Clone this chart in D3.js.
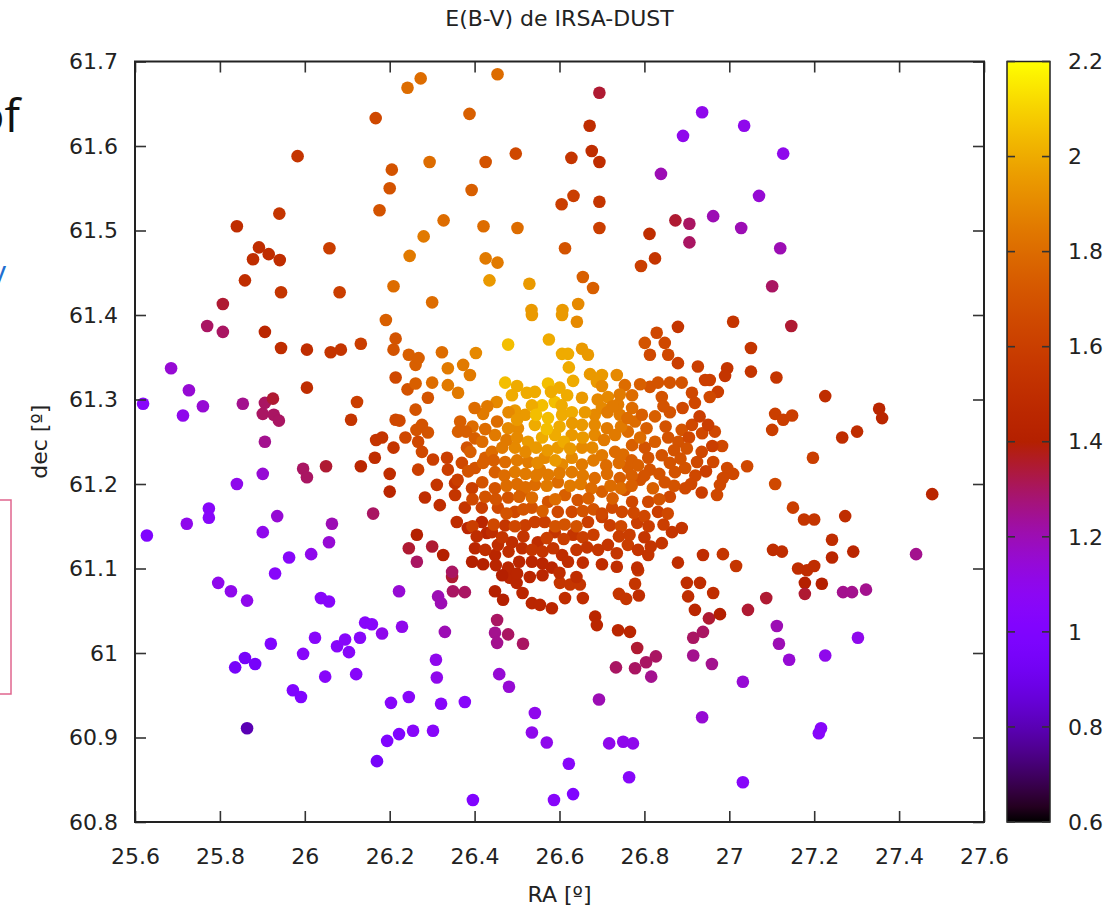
<!DOCTYPE html>
<html lang="es">
<head>
<meta charset="UTF-8">
<title>E(B-V) de IRSA-DUST</title>
<script src="https://d3js.org/d3.v7.min.js"></script>
<style>
  body { margin: 0; background: #fff; }
  svg { display: block; }
  .axis text { font-family: "DejaVu Sans", sans-serif; font-size: 22px; fill: #222; }
  .axis line { stroke: #333; stroke-width: 1.6; }
  .label { font-family: "DejaVu Sans", sans-serif; font-size: 22px; fill: #222; }
</style>
</head>
<body>
<svg id="chart" width="1119" height="908"></svg>
<script>
// RA [deg], dec [deg] and E(B-V), grouped by region
const raDeg = [
  // top left
  26.273,26.242,26.167,25.983,26.205,26.200,26.176,26.294,26.280,26.247,26.209,26.300,25.940,25.840,25.892,25.878,25.915,25.941,25.859,25.944,26.058,26.082,25.807,26.191,
  // top centre / right
  26.454,26.694,26.671,26.676,26.694,26.628,26.633,26.605,26.694,26.694,26.613,26.655,26.679,26.644,26.607,26.534,26.529,26.435,26.426,26.454,26.501,26.421,26.393,26.426,26.497,26.388,26.327,26.812,26.825,26.792,26.873,26.906,26.906,26.962,26.839,26.891,26.936,27.035,27.127,27.070,27.028,27.120,27.101,27.009,27.146,
  // middle left
  25.770,25.807,25.906,25.944,26.005,26.061,26.085,26.132,26.214,26.209,26.245,26.261,26.214,26.242,26.261,26.261,25.685,25.727,25.619,25.713,25.760,25.854,25.906,25.925,25.901,25.927,25.939,26.005,26.123,26.109,26.214,26.223,26.237,26.263,26.168,26.182,26.209,26.165,26.132,26.200,26.200,25.906,25.996,26.005,26.050,25.901,25.840,25.774,25.774,25.722,25.628,25.935,25.901,26.064,26.057,25.963,26.015,26.161,26.264,26.245,26.264,25.930,
  // middle right
  27.051,26.995,26.990,27.051,27.111,26.954,26.973,27.226,27.353,27.360,27.108,27.127,27.148,27.101,27.301,27.266,26.966,26.983,27.197,26.962,26.995,27.009,26.985,26.978,26.971,27.042,27.108,27.478,27.150,27.176,27.200,27.273,27.242,27.242,27.292,27.440,27.103,27.124,26.985,27.016,27.162,27.183,27.200,
  // bottom left
  25.796,25.826,25.864,26.038,26.057,26.222,26.314,26.321,26.347,26.349,26.377,26.448,26.467,26.483,26.499,26.513,26.535,26.554,26.582,26.453,26.448,26.453,26.479,26.514,26.142,26.158,26.229,26.182,26.330,26.130,26.095,26.076,26.104,26.024,25.996,25.920,25.859,25.836,25.883,26.048,26.121,25.972,25.991,25.864,26.309,26.311,26.458,26.481,26.203,26.245,26.321,26.377,26.542,26.535,26.570,26.194,26.222,26.255,26.302,26.170,26.396,26.587,
  // bottom right
  26.601,26.625,26.648,26.613,26.655,26.785,26.778,26.787,26.740,26.757,26.684,26.688,26.738,26.766,26.783,26.733,26.778,26.804,26.827,26.816,26.900,26.931,26.903,26.962,26.919,26.952,26.978,26.915,26.938,26.915,26.959,27.087,27.044,27.178,27.178,27.218,27.268,27.289,27.322,27.112,27.117,27.141,27.032,27.226,27.303,26.693,26.936,26.717,26.750,26.773,27.216,27.211,26.622,26.764,26.632,27.032,
  // central cluster
  26.535,26.606,26.641,26.479,26.575,26.606,26.620,26.653,26.667,26.622,
  26.632,26.573,26.672,26.700,26.688,26.735,26.472,26.488,26.523,26.542,
  26.618,26.653,26.714,26.754,26.771,26.801,26.829,26.848,26.879,26.813,
  26.856,26.879,26.813,26.832,26.860,26.888,26.841,26.926,26.943,26.912,
  26.919,26.954,26.323,26.403,26.337,26.373,26.389,26.337,26.361,26.268,
  26.300,26.290,26.366,26.361,26.453,26.276,26.290,26.267,26.276,26.302,
  26.335,26.337,26.267,26.382,26.401,26.502,26.311,26.354,26.283,26.318,
  26.354,26.358,26.300,26.326,
  26.347,26.384,26.417,26.429,26.401,26.448,26.394,26.479,26.512,26.549,
  26.589,26.606,26.632,26.655,26.691,26.714,26.667,26.700,26.724,26.747,
  26.771,26.783,26.761,26.809,26.841,26.865,26.888,26.832,26.809,26.860,
  26.896,26.848,26.872,26.896,26.924,26.938,26.879,26.783,26.742,26.683,
  26.613,26.700,26.761,26.809,26.841,26.825,26.856,26.888,26.912,26.936,
  26.950,
  26.825,26.778,26.742,26.712,26.683,26.683,26.653,26.629,26.596,26.565,
  26.526,26.495,26.472,26.448,26.425,26.418,26.448,26.479,26.512,26.542,
  26.573,26.596,26.629,26.653,26.629,26.589,26.559,26.526,26.495,26.542,
  26.519,26.573,26.606,26.629,26.589,26.559,26.535,26.495,26.479,26.448,
  26.418,26.441,26.465,26.660,26.700,26.738,26.771,26.794,26.731,26.700,
  26.677,26.653,26.771,26.801,26.731,26.761,26.401,26.394,26.377,26.417,
  26.455,26.495,26.535,26.573,26.596,26.629,26.565,26.519,26.472,26.441,
  26.488,26.455,26.535,26.582,26.542,
  26.554,26.606,26.790,26.813,26.719,26.754,26.643,
  // central cluster, densest part
  26.452,26.580,26.690,26.742,
  26.420,26.480,26.545,26.713,26.860,
  26.395,26.425,26.570,26.600,26.630,26.683,26.745,26.805,26.850,
  26.475,26.500,26.610,26.655,26.705,26.790,26.880,26.905,
  26.390,26.520,26.545,26.572,26.625,26.750,26.870,26.900,
  26.420,26.445,26.500,26.548,26.590,26.680,26.710,26.740,26.770,26.785,26.860,26.885,
  26.470,26.520,26.545,26.600,26.655,26.712,26.770,26.800,26.835,26.920,
  26.475,26.500,26.520,26.570,26.625,26.650,26.675,26.720,26.745,26.770,26.820,26.870,
  26.395,26.425,26.450,26.505,26.535,26.590,26.668,26.725,26.835,
  26.475,26.515,26.560,26.655,26.680,26.700,26.775,26.800,26.855,
  26.395,26.445,26.495,26.590,26.612,26.640,26.745,26.810,26.845,
  26.405,26.465,26.515,26.570,26.610,26.655,26.680,26.740,26.765,26.800,
  26.425,26.480,26.535,26.560,26.585,26.640,26.665,26.735,26.785,26.815,
  26.420,26.450,26.505,26.560,26.620,26.700,26.735,
  26.465,26.500,26.530,26.560,26.600,26.640,
  // central cluster, edges
  26.500,26.600,26.700,26.790,
  26.400,26.430,26.605,26.725,26.845,26.890,
  26.500,26.760,26.930,
  26.960,26.935,26.945,26.910,26.935,
  26.380,26.370,26.360,26.385
];

const decDeg = [
  61.680,61.669,61.633,61.588,61.572,61.550,61.524,61.581,61.493,61.470,61.434,61.415,61.520,61.505,61.480,61.466,61.472,61.465,61.441,61.427,61.479,61.427,61.413,61.394,
  61.685,61.663,61.624,61.594,61.581,61.586,61.541,61.531,61.534,61.503,61.479,61.445,61.432,61.413,61.406,61.406,61.437,61.441,61.467,61.462,61.503,61.505,61.548,61.581,61.591,61.638,61.512,61.496,61.467,61.458,61.512,61.508,61.486,61.517,61.567,61.612,61.640,61.624,61.591,61.541,61.503,61.479,61.434,61.392,61.387,
  61.387,61.380,61.380,61.361,61.359,61.356,61.359,61.366,61.372,61.359,61.353,61.341,61.326,61.312,61.319,61.288,61.337,61.311,61.295,61.281,61.292,61.295,61.296,61.301,61.283,61.282,61.275,61.314,61.297,61.276,61.276,61.275,61.255,61.264,61.252,61.255,61.243,61.231,61.221,61.212,61.191,61.250,61.218,61.208,61.221,61.212,61.200,61.171,61.160,61.153,61.139,61.162,61.143,61.153,61.131,61.113,61.117,61.165,61.140,61.124,61.108,61.094,
  61.361,61.337,61.328,61.333,61.326,61.323,61.309,61.304,61.289,61.278,61.283,61.276,61.281,61.264,61.262,61.255,61.262,61.245,61.231,61.226,61.219,61.212,61.207,61.199,61.187,61.221,61.200,61.188,61.172,61.158,61.158,61.162,61.134,61.113,61.120,61.117,61.122,61.120,61.117,61.103,61.100,61.098,61.103,
  61.083,61.073,61.062,61.065,61.061,61.073,61.067,61.059,61.090,61.073,61.072,61.073,61.063,61.089,61.083,61.071,61.059,61.057,61.053,61.039,61.024,61.012,61.022,61.011,61.036,61.034,61.031,61.023,61.025,61.018,61.016,61.008,61.001,61.018,60.999,61.011,60.994,60.983,60.987,60.972,60.975,60.956,60.948,60.911,60.992,60.971,60.975,60.960,60.941,60.948,60.940,60.942,60.929,60.906,60.894,60.896,60.904,60.908,60.908,60.872,60.826,60.826,
  61.083,61.081,61.081,61.065,61.065,61.098,61.082,61.068,61.070,61.064,61.043,61.033,61.027,61.025,61.006,60.983,60.982,60.989,60.996,60.972,61.083,61.083,61.067,61.071,61.051,61.041,61.046,61.018,61.025,60.997,60.987,61.065,61.051,61.083,61.070,61.082,61.072,61.072,61.075,61.032,61.011,60.992,60.966,60.997,61.018,60.945,60.924,60.893,60.895,60.893,60.911,60.905,60.869,60.853,60.833,60.847,
  61.400,61.400,61.392,61.365,61.371,61.354,61.354,61.360,61.353,61.338,
  61.322,61.319,61.330,61.329,61.321,61.329,61.320,61.305,61.308,61.309,
  61.305,61.302,61.303,61.317,61.305,61.367,61.379,61.367,61.386,61.353,
  61.353,61.343,61.315,61.320,61.320,61.320,61.303,61.339,61.323,61.308,
  61.296,61.303,61.356,61.355,61.337,61.341,61.329,61.317,61.308,61.349,
  61.320,61.302,61.274,61.262,61.274,61.270,61.261,61.250,61.238,61.229,
  61.231,61.217,61.217,61.243,61.254,61.266,61.199,61.201,61.184,61.175,
  61.187,61.155,61.126,61.116,
  61.096,61.148,61.155,61.142,61.124,61.116,61.108,61.101,61.124,61.131,
  61.143,61.116,61.140,61.107,61.122,61.128,61.155,61.161,61.172,61.167,
  61.179,61.154,61.128,61.116,61.130,61.143,61.148,61.167,61.179,61.185,
  61.195,61.202,61.214,61.219,61.226,61.116,61.107,61.101,61.207,61.207,
  61.187,61.191,61.220,61.231,61.234,61.250,61.255,61.264,61.270,61.260,
  61.270,
  61.280,61.274,61.282,61.266,61.282,61.258,61.270,61.258,61.243,61.231,
  61.226,61.214,61.226,61.214,61.231,61.202,61.195,61.184,61.191,61.199,
  61.211,61.202,61.214,61.223,61.231,61.258,61.255,61.250,61.243,61.270,
  61.282,61.278,61.282,61.285,61.297,61.293,61.293,61.287,61.266,61.258,
  61.250,61.238,61.243,61.285,61.290,61.294,61.290,61.282,61.238,61.234,
  61.243,61.243,61.246,61.243,61.258,61.262,61.219,61.195,61.172,61.172,
  61.172,61.167,61.172,61.179,61.167,61.167,61.155,61.151,61.151,61.143,
  61.131,61.128,61.108,61.101,61.155,
  61.217,61.223,61.205,61.217,61.151,61.193,61.181,
  61.297,61.309,61.300,61.306,
  61.283,61.285,61.282,61.285,61.285,
  61.268,61.265,61.265,61.268,61.272,61.270,61.268,61.266,61.268,
  61.252,61.255,61.250,61.255,61.252,61.255,61.250,61.255,
  61.238,61.238,61.243,61.240,61.242,61.235,61.240,61.242,
  61.225,61.228,61.228,61.225,61.228,61.228,61.222,61.225,61.228,61.222,61.225,61.230,
  61.210,61.212,61.210,61.213,61.210,61.212,61.210,61.210,61.212,61.210,
  61.198,61.200,61.196,61.198,61.198,61.200,61.195,61.198,61.195,61.198,61.195,61.198,
  61.182,61.185,61.182,61.185,61.184,61.182,61.183,61.183,61.182,
  61.165,61.170,61.168,61.168,61.170,61.165,61.166,61.162,61.165,
  61.150,61.152,61.150,61.150,61.152,61.150,61.150,61.150,61.152,
  61.138,61.137,61.138,61.136,61.135,61.137,61.140,61.138,61.140,61.137,
  61.122,61.120,61.122,61.120,61.124,61.122,61.125,61.118,61.122,61.126,
  61.105,61.104,61.108,61.106,61.108,61.105,61.102,
  61.092,61.094,61.090,61.092,61.095,61.090,
  61.316,61.314,61.316,61.318,
  61.290,61.292,61.293,61.292,61.292,61.290,
  61.276,61.278,61.280,
  61.245,61.238,61.215,61.200,61.190,
  61.262,61.225,61.205,61.215
];

const ebv = [
  1.8,1.8,1.65,1.55,1.7,1.7,1.7,1.8,1.85,1.85,1.8,1.8,1.55,1.5,1.5,1.5,1.5,1.5,1.5,1.55,1.6,1.6,1.35,1.75,
  1.8,1.35,1.5,1.5,1.5,1.55,1.6,1.6,1.55,1.6,1.7,1.75,1.75,1.9,1.95,1.95,1.95,1.95,1.85,1.85,1.8,1.8,1.75,1.7,1.65,1.75,1.8,1.5,1.55,1.6,1.35,1.3,1.3,1.2,1.2,1.1,1.1,1.1,1.1,1.15,1.2,1.2,1.3,1.55,1.35,
  1.3,1.3,1.45,1.5,1.5,1.55,1.55,1.6,1.7,1.7,1.75,1.75,1.65,1.7,1.75,1.7,1.15,1.15,1.05,1.1,1.15,1.25,1.3,1.35,1.3,1.3,1.3,1.5,1.6,1.55,1.65,1.65,1.65,1.7,1.55,1.55,1.55,1.5,1.45,1.5,1.45,1.25,1.3,1.3,1.35,1.15,1.1,1.05,1.05,1.1,1.0,1.15,1.1,1.2,1.15,1.05,1.1,1.3,1.4,1.35,1.3,1.05,
  1.55,1.55,1.55,1.55,1.55,1.6,1.6,1.5,1.45,1.45,1.6,1.6,1.6,1.6,1.5,1.5,1.65,1.65,1.6,1.65,1.65,1.65,1.65,1.65,1.65,1.65,1.65,1.45,1.6,1.55,1.55,1.5,1.5,1.45,1.45,1.25,1.5,1.5,1.55,1.55,1.5,1.5,1.5,
  1.1,1.1,1.1,1.05,1.05,1.15,1.2,1.2,1.35,1.3,1.3,1.4,1.4,1.45,1.45,1.45,1.45,1.45,1.45,1.3,1.25,1.25,1.3,1.3,1.05,1.05,1.1,1.1,1.2,1.05,1.05,1.05,1.05,1.05,1.05,1.0,0.95,0.95,0.95,1.05,1.05,1.0,1.0,0.8,1.1,1.1,1.15,1.15,1.05,1.05,1.05,1.05,1.1,1.1,1.1,1.0,1.0,1.05,1.05,0.95,1.0,1.05,
  1.55,1.55,1.55,1.5,1.5,1.55,1.55,1.5,1.55,1.55,1.45,1.45,1.45,1.45,1.35,1.3,1.3,1.3,1.3,1.25,1.5,1.5,1.5,1.5,1.45,1.35,1.4,1.3,1.3,1.25,1.25,1.35,1.35,1.4,1.35,1.4,1.25,1.25,1.25,1.2,1.2,1.15,1.15,1.1,1.1,1.2,1.15,1.1,1.1,1.1,1.05,1.05,1.05,1.05,1.0,1.05,
  1.95,1.95,1.9,2.05,2.0,2.0,2.0,1.95,1.95,2.0,
  2.0,2.05,1.95,1.95,1.95,1.9,2.05,2.0,2.0,2.0,
  2.0,1.95,1.9,1.8,1.8,1.7,1.65,1.65,1.55,1.65,
  1.65,1.6,1.7,1.7,1.7,1.7,1.7,1.6,1.6,1.65,
  1.65,1.65,1.8,1.9,1.85,1.85,1.85,1.85,1.85,1.75,
  1.8,1.7,1.75,1.75,1.8,1.7,1.7,1.65,1.65,1.6,
  1.6,1.6,1.6,1.7,1.75,1.9,1.55,1.55,1.5,1.5,
  1.55,1.5,1.35,1.4,
  1.3,1.45,1.45,1.45,1.45,1.45,1.4,1.45,1.5,1.5,
  1.55,1.5,1.55,1.5,1.55,1.55,1.6,1.6,1.65,1.65,
  1.65,1.6,1.6,1.55,1.55,1.55,1.55,1.6,1.65,1.65,
  1.65,1.7,1.7,1.7,1.65,1.5,1.5,1.5,1.75,1.8,
  1.75,1.75,1.75,1.7,1.7,1.75,1.7,1.7,1.65,1.65,
  1.6,
  1.75,1.8,1.85,1.85,1.9,1.9,1.95,1.95,1.95,1.9,
  1.85,1.85,1.8,1.75,1.75,1.7,1.7,1.7,1.75,1.8,
  1.85,1.8,1.85,1.85,1.9,2.0,2.0,1.95,1.9,2.0,
  1.95,2.05,2.0,2.0,2.05,2.05,2.0,1.95,1.9,1.85,
  1.8,1.8,1.85,1.95,1.9,1.85,1.8,1.75,1.8,1.85,
  1.9,1.9,1.75,1.7,1.85,1.8,1.7,1.6,1.55,1.6,
  1.65,1.65,1.7,1.7,1.65,1.65,1.6,1.6,1.55,1.5,
  1.5,1.5,1.45,1.45,1.6,
  1.85,1.9,1.7,1.7,1.6,1.7,1.7,
  1.9,2.0,1.9,1.85,
  1.85,1.9,2.05,1.85,1.7,
  1.8,1.8,2.05,2.0,1.95,1.9,1.85,1.75,1.7,
  1.85,1.9,2.0,1.95,1.85,1.8,1.7,1.65,
  1.75,1.9,1.95,1.95,1.95,1.8,1.7,1.7,
  1.75,1.75,1.85,1.9,1.95,1.85,1.8,1.8,1.75,1.75,1.7,1.7,
  1.8,1.85,1.85,1.85,1.85,1.8,1.75,1.7,1.7,1.65,
  1.8,1.8,1.8,1.85,1.85,1.85,1.8,1.8,1.8,1.75,1.75,1.7,
  1.65,1.7,1.7,1.75,1.8,1.8,1.75,1.75,1.7,
  1.7,1.7,1.75,1.7,1.7,1.65,1.65,1.65,1.65,
  1.6,1.65,1.65,1.7,1.7,1.7,1.65,1.6,1.6,
  1.5,1.55,1.55,1.6,1.6,1.6,1.6,1.6,1.6,1.55,
  1.5,1.5,1.55,1.55,1.55,1.55,1.55,1.55,1.55,1.55,
  1.4,1.45,1.45,1.45,1.5,1.5,1.5,
  1.4,1.45,1.45,1.45,1.5,1.5,
  2.0,2.0,1.9,1.75,
  1.8,1.85,2.0,1.85,1.7,1.65,
  1.95,1.8,1.6,
  1.6,1.65,1.6,1.65,1.6,
  1.75,1.65,1.6,1.7
];

const xTicks = [25.6, 25.8, 26, 26.2, 26.4, 26.6, 26.8, 27, 27.2, 27.4, 27.6];
const yTicks = [60.8, 60.9, 61, 61.1, 61.2, 61.3, 61.4, 61.5, 61.6, 61.7];
const cbTicks = [0.6, 0.8, 1, 1.2, 1.4, 1.6, 1.8, 2, 2.2];

if (raDeg.length !== decDeg.length || raDeg.length !== ebv.length)
  console.warn("length mismatch", raDeg.length, decDeg.length, ebv.length);

const svg = d3.select("#chart");
const plotL = 135, plotR = 984, plotT = 61.5, plotB = 822;

const x = d3.scaleLinear().domain([25.6, 27.6]).range([plotL, plotR]);
const y = d3.scaleLinear().domain([60.8, 61.7]).range([plotB, plotT]);
const cb = d3.scaleLinear().domain([0.6, 2.2]).range([plotB, plotT]);

// gnuplot default palette (rgbformulae 7,5,15)
function palette(v) {
  const t = Math.max(0, Math.min(1, (v - 0.6) / 1.6));
  const r = Math.sqrt(t), g = t * t * t, b = Math.max(0, Math.sin(2 * Math.PI * t));
  return d3.rgb(r * 255, g * 255, b * 255).formatHex();
}

// bits of the slide that sit behind the chart
svg.append("text").attr("x", 20).attr("y", 132).attr("text-anchor", "end")
  .style("font-family", "'Open Sans', sans-serif").style("font-size", "46px").style("fill", "#111").text("of");
svg.append("text").attr("x", 6).attr("y", 282).attr("text-anchor", "end")
  .style("font-family", "'Open Sans', sans-serif").style("font-size", "30px").style("fill", "#1f6fd0").text("y");
svg.append("rect").attr("x", -5).attr("y", 500).attr("width", 16).attr("height", 194)
  .attr("fill", "none").attr("stroke", "#e0668e").attr("stroke-width", 1.5);

// points
const n = Math.min(raDeg.length, decDeg.length, ebv.length);
svg.append("g").selectAll("circle")
  .data(d3.range(n))
  .join("circle")
  .attr("cx", i => x(raDeg[i]))
  .attr("cy", i => y(decDeg[i]))
  .attr("r", 6.3)
  .attr("fill", i => palette(ebv[i]));

// axes, ticks pointing inwards, mirrored on top and right
const fmt = d3.format("");
svg.append("g").attr("class", "axis").attr("transform", `translate(0,${plotB})`)
  .call(d3.axisBottom(x).tickValues(xTicks).tickSizeInner(-11).tickSizeOuter(0).tickPadding(26).tickFormat(fmt));
svg.append("g").attr("class", "axis").attr("transform", `translate(0,${plotT})`)
  .call(d3.axisTop(x).tickValues(xTicks).tickSizeInner(-11).tickSizeOuter(0).tickFormat(""));
svg.append("g").attr("class", "axis").attr("transform", `translate(${plotL},0)`)
  .call(d3.axisLeft(y).tickValues(yTicks).tickSizeInner(-11).tickSizeOuter(0).tickPadding(17).tickFormat(fmt));
svg.append("g").attr("class", "axis").attr("transform", `translate(${plotR},0)`)
  .call(d3.axisRight(y).tickValues(yTicks).tickSizeInner(-11).tickSizeOuter(0).tickFormat(""));
svg.selectAll(".axis .domain").remove();

svg.append("rect").attr("x", plotL).attr("y", plotT)
  .attr("width", plotR - plotL).attr("height", plotB - plotT)
  .attr("fill", "none").attr("stroke", "#222").attr("stroke-width", 2);

// colour box
const cbx0 = 1007, cbx1 = 1050;
const grad = svg.append("defs").append("linearGradient")
  .attr("id", "pal").attr("x1", 0).attr("y1", 1).attr("x2", 0).attr("y2", 0);
grad.selectAll("stop").data(d3.range(0, 1.0001, 0.02)).join("stop")
  .attr("offset", d => d).attr("stop-color", d => palette(0.6 + d * 1.6));
svg.append("rect").attr("x", cbx0).attr("y", plotT).attr("width", cbx1 - cbx0).attr("height", plotB - plotT)
  .attr("fill", "url(#pal)").attr("stroke", "#222").attr("stroke-width", 1.5);

const cbAxis = svg.append("g").attr("class", "axis");
cbAxis.selectAll("line.l").data(cbTicks).join("line").attr("class", "l")
  .attr("x1", cbx0).attr("x2", cbx0 + 8).attr("y1", d => cb(d)).attr("y2", d => cb(d));
cbAxis.selectAll("line.r").data(cbTicks).join("line").attr("class", "r")
  .attr("x1", cbx1 - 8).attr("x2", cbx1).attr("y1", d => cb(d)).attr("y2", d => cb(d));
cbAxis.selectAll("text").data(cbTicks).join("text")
  .attr("x", 1068).attr("y", d => cb(d)).attr("dy", "0.35em").text(fmt);

// titles
svg.append("text").attr("class", "label").attr("x", (plotL + plotR) / 2).attr("y", 26)
  .attr("text-anchor", "middle").text("E(B-V) de IRSA-DUST");
svg.append("text").attr("class", "label").attr("x", (plotL + plotR) / 2).attr("y", 902)
  .attr("text-anchor", "middle").text("RA [º]");
svg.append("text").attr("class", "label")
  .attr("transform", `translate(47,${(plotT + plotB) / 2}) rotate(-90)`)
  .attr("text-anchor", "middle").text("dec [º]");
</script>
</body>
</html>
